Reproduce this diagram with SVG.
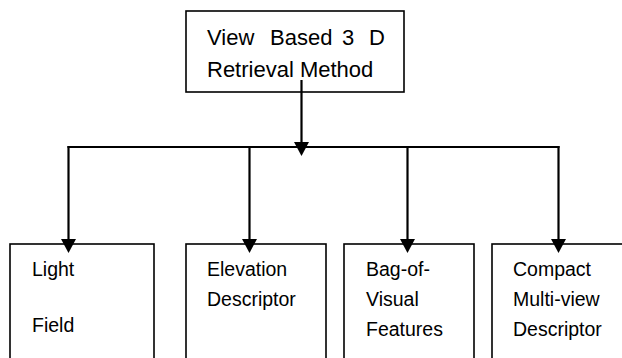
<svg xmlns="http://www.w3.org/2000/svg" width="622" height="358" viewBox="0 0 622 358">
<defs>
<style>
.box{fill:#fff;stroke:#000;stroke-width:1.6}
.t{font-family:"Liberation Sans",Arial,sans-serif;font-size:19.5px;fill:#000}
.tt{font-family:"Liberation Sans",Arial,sans-serif;font-size:22px;fill:#000}
.c{stroke:#000;stroke-width:2.2;fill:none}
</style>
<path id="head" d="M-7.5,-14 L7.5,-14 L0,0 Z" fill="#000"/>
</defs>
<rect width="622" height="358" fill="#fff"/>
<g id="top">
<rect class="box" x="186" y="11" width="218" height="81"/>
<text class="tt" y="45"><tspan x="207">View</tspan><tspan x="270">Based</tspan><tspan x="342">3</tspan><tspan x="369">D</tspan></text>
<text class="tt" x="207" y="77">Retrieval Method</text>
</g>
<g id="n1">
<rect class="box" x="10" y="244" width="144" height="130"/>
<text class="t" x="32" y="276">Light</text>
<text class="t" x="32" y="332">Field</text>
</g>
<g id="n2">
<rect class="box" x="186" y="244" width="140" height="130"/>
<text class="t" x="207" y="276">Elevation</text>
<text class="t" x="207" y="306">Descriptor</text>
</g>
<g id="n3">
<rect class="box" x="344" y="244" width="130" height="130"/>
<text class="t" x="366" y="276">Bag-of-</text>
<text class="t" x="366" y="306">Visual</text>
<text class="t" x="366" y="336">Features</text>
</g>
<g id="n4">
<rect class="box" x="492" y="244" width="150" height="130"/>
<text class="t" x="513" y="276">Compact</text>
<text class="t" x="513" y="306">Multi-view</text>
<text class="t" x="513" y="336">Descriptor</text>
</g>
<g id="connectors">
<line class="c" x1="67.5" y1="147" x2="559.5" y2="147"/>
<line class="c" x1="301.5" y1="80" x2="301.5" y2="145"/>
<use href="#head" x="301.5" y="156"/>
<line class="c" x1="68.5" y1="146" x2="68.5" y2="242"/>
<use href="#head" x="68.5" y="253"/>
<line class="c" x1="249.5" y1="146" x2="249.5" y2="242"/>
<use href="#head" x="249.5" y="253"/>
<line class="c" x1="407.5" y1="146" x2="407.5" y2="242"/>
<use href="#head" x="407.5" y="253"/>
<line class="c" x1="558.5" y1="146" x2="558.5" y2="242"/>
<use href="#head" x="558.5" y="253"/>
</g>
</svg>
